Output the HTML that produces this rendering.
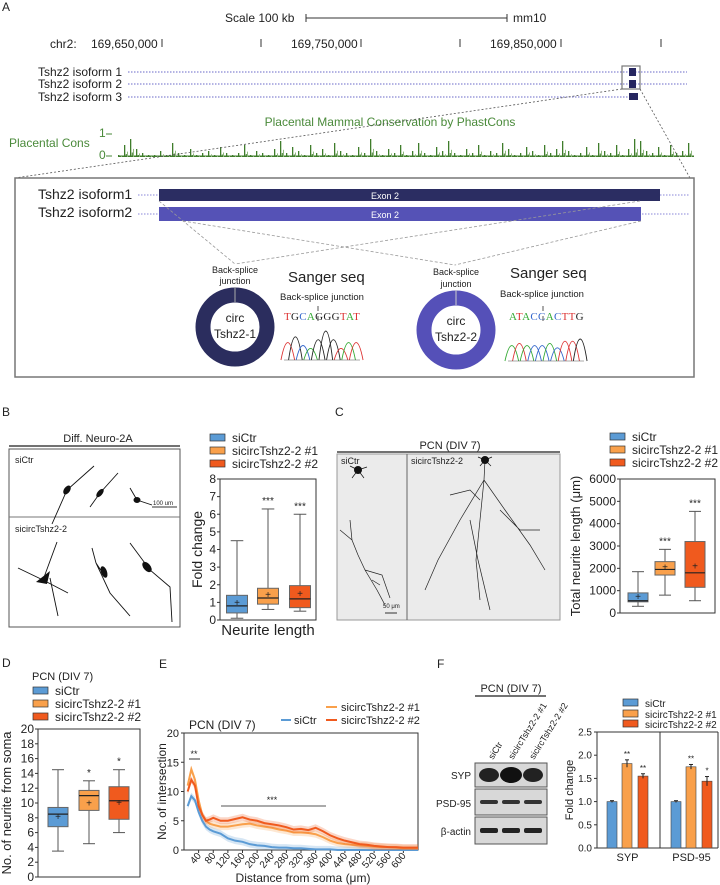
<!DOCTYPE html>
<html><head><meta charset="utf-8"><style>
body{margin:0;background:#fff}
svg{display:block;font-family:"Liberation Sans",Arial,sans-serif}
</style></head><body>
<svg id="fig" width="720" height="885" viewBox="0 0 720 885" xmlns="http://www.w3.org/2000/svg">
<!-- Panel A -->
<g font-size="12" fill="#222">
<text x="2" y="11" font-size="12">A</text>
<text x="225" y="22">Scale  100 kb</text>
<line x1="306" y1="18" x2="507" y2="18" stroke="#333"/>
<line x1="306" y1="14" x2="306" y2="22" stroke="#333"/><line x1="507" y1="14" x2="507" y2="22" stroke="#333"/>
<text x="513" y="22">mm10</text>
<g>
<text x="50" y="48">chr2:</text>
<text x="91" y="48">169,650,000</text><text x="291" y="48">169,750,000</text><text x="490" y="48">169,850,000</text>
<g stroke="#333"><line x1="162" y1="39" x2="162" y2="47"/><line x1="261" y1="39" x2="261" y2="47"/><line x1="361" y1="39" x2="361" y2="47"/><line x1="460" y1="39" x2="460" y2="47"/><line x1="561" y1="39" x2="561" y2="47"/><line x1="661" y1="39" x2="661" y2="47"/></g>
</g>
<g>
<text x="122" y="76" text-anchor="end">Tshz2 isoform 1</text>
<text x="122" y="88" text-anchor="end">Tshz2 isoform 2</text>
<text x="122" y="101" text-anchor="end">Tshz2 isoform 3</text>
<g stroke="#6a68c8" stroke-width="1" stroke-dasharray="1.5 1.5">
<line x1="128" y1="72" x2="687" y2="72"/><line x1="128" y1="84" x2="687" y2="84"/><line x1="128" y1="97" x2="632" y2="97"/></g>
<rect x="629" y="68" width="7" height="8" fill="#262660"/><rect x="629" y="80" width="7" height="8" fill="#262660"/><rect x="629" y="93" width="9" height="7" fill="#262660"/>
<rect x="622" y="66" width="18" height="23" fill="none" stroke="#777" stroke-width="1.2"/>
</g>
<text x="390" y="126" text-anchor="middle" fill="#4a8a3a">Placental Mammal Conservation by PhastCons</text>
<text x="9" y="147" fill="#4a8a3a">Placental Cons</text>
<text x="99" y="137" fill="#4a8a3a">1</text><text x="99" y="159" fill="#4a8a3a">0</text>
<line x1="106" y1="134" x2="112" y2="134" stroke="#4a8a3a"/><line x1="106" y1="156" x2="112" y2="156" stroke="#4a8a3a"/>
<g id="cons"></g>
<g stroke="#555" stroke-dasharray="2 2" stroke-width="0.8">
<line x1="622" y1="89" x2="15" y2="178"/><line x1="640" y1="89" x2="690" y2="178"/></g>
<rect x="15" y="178" width="679" height="199" fill="none" stroke="#777" stroke-width="1.5"/>
<g>
<text x="38" y="199" font-size="14">Tshz2 isoform1</text>
<text x="38" y="217" font-size="14">Tshz2 isoform2</text>
<g stroke="#8886d8" stroke-dasharray="1.5 1.5"><line x1="138" y1="195" x2="690" y2="195"/><line x1="138" y1="214" x2="690" y2="214"/></g>
<rect x="159" y="189" width="501" height="12" fill="#2b2d62"/>
<rect x="159" y="207" width="482" height="14" fill="#5552b6"/>
<text x="385" y="199" font-size="9" fill="#fff" text-anchor="middle">Exon 2</text>
<text x="385" y="218" font-size="9" fill="#fff" text-anchor="middle">Exon 2</text>
<g stroke="#999" stroke-dasharray="3 2" stroke-width="0.8" fill="none">
<line x1="159" y1="201" x2="235" y2="264"/><line x1="640" y1="201" x2="235" y2="264"/>
<line x1="183" y1="221" x2="455" y2="265"/><line x1="641" y1="221" x2="455" y2="265"/></g>
<circle cx="235" cy="327" r="32" fill="none" stroke="#2b2d5e" stroke-width="15"/>
<circle cx="456" cy="330" r="32" fill="none" stroke="#5550b8" stroke-width="15"/>
<line x1="235" y1="287" x2="235" y2="302" stroke="#aaa"/><line x1="456" y1="290" x2="456" y2="305" stroke="#ccc"/>
<g font-size="9" text-anchor="middle"><text x="235" y="273">Back-splice</text><text x="235" y="284">junction</text>
<text x="456" y="275">Back-splice</text><text x="456" y="287">junction</text></g>
<g font-size="12" text-anchor="middle"><text x="235" y="322">circ</text><text x="235" y="338">Tshz2-1</text>
<text x="456" y="325">circ</text><text x="456" y="341">Tshz2-2</text></g>
<text x="288" y="282" font-size="15">Sanger seq</text><text x="510" y="278" font-size="15">Sanger seq</text>
<text x="280" y="300" font-size="9.5">Back-splice junction</text><text x="500" y="297" font-size="9.5">Back-splice junction</text>
<text x="284" y="320" font-size="11" font-family="Liberation Serif,serif" letter-spacing="0.3"><tspan fill="#d33">T</tspan><tspan fill="#222">G</tspan><tspan fill="#36c">C</tspan><tspan fill="#3a3">A</tspan><tspan fill="#222">GGG</tspan><tspan fill="#d33">T</tspan><tspan fill="#3a3">A</tspan><tspan fill="#d33">T</tspan></text>
<text x="509" y="320" font-size="11" font-family="Liberation Serif,serif" letter-spacing="0.3"><tspan fill="#3a3">A</tspan><tspan fill="#d33">T</tspan><tspan fill="#3a3">A</tspan><tspan fill="#36c">CC</tspan><tspan fill="#3a3">A</tspan><tspan fill="#36c">C</tspan><tspan fill="#d33">TT</tspan><tspan fill="#222">G</tspan></text>
<path d="M318 306 l0 5 M318 316 l0 5" stroke="#555"/><path d="M543 306 l0 5 M543 316 l0 5" stroke="#555"/>
<g id="chrom"></g>
</g>
</g>

<!-- Panel B -->
<g fill="#222">
<text x="2" y="416" font-size="12">B</text>
<text x="98" y="442" font-size="11" text-anchor="middle">Diff. Neuro-2A</text>
<line x1="9" y1="446" x2="180" y2="446" stroke="#444" stroke-width="1.5"/>
<rect x="9" y="449" width="171" height="178" fill="#fff" stroke="#555"/>
<line x1="9" y1="517" x2="180" y2="517" stroke="#777"/>
<text x="15" y="463" font-size="9">siCtr</text><text x="15" y="532" font-size="9">sicircTshz2-2</text>
<text x="153" y="505" font-size="6">100 um</text><line x1="152" y1="507" x2="177" y2="507" stroke="#333"/>
<g stroke="#111" fill="none" stroke-width="0.9">
<path d="M94 466 L67 490 L52 524"/><path d="M118 473 L100 493 L90 507"/><path d="M130 488 L137 500 L152 505"/>
<path d="M18 568 L43 580 L68 593 M43 580 L57 542 M50 578 L58 616"/>
<path d="M92 548 L96 563 L110 593 L130 616 M96 563 L104 575"/><path d="M130 543 L150 570 L170 587 L172 622"/>
</g>
<g fill="#111"><ellipse cx="67" cy="490" rx="3" ry="5" transform="rotate(35 67 490)"/><ellipse cx="100" cy="493" rx="2.5" ry="5" transform="rotate(40 100 493)"/><ellipse cx="137" cy="500" rx="3.5" ry="3"/>
<path d="M36 582 L50 571 L47 584 Z"/><ellipse cx="104" cy="572" rx="3" ry="6" transform="rotate(-20 104 572)"/><ellipse cx="147" cy="567" rx="3.5" ry="6" transform="rotate(-40 147 567)"/></g>
<g id="chartB"></g>
</g>

<!-- Panel C -->
<g fill="#222">
<text x="335" y="416" font-size="12">C</text>
<text x="450" y="449" font-size="11" text-anchor="middle">PCN (DIV 7)</text>
<line x1="337" y1="452" x2="560" y2="452" stroke="#444" stroke-width="1.5"/>
<rect x="337" y="454" width="223" height="166" fill="#ebebeb" stroke="#999"/>
<line x1="407" y1="454" x2="407" y2="620" stroke="#666"/>
<text x="341" y="464" font-size="9">siCtr</text><text x="411" y="464" font-size="9">sicircTshz2-2</text>
<text x="383" y="608" font-size="6">50 μm</text><line x1="385" y1="613" x2="397" y2="613" stroke="#333"/>
<g stroke="#222" fill="none" stroke-width="0.7">
<path d="M358 555 L365 570 L377 590 L385 605 M365 570 L382 575 L390 598 M372 580 L380 585"/>
<path d="M358 555 L352 540 L350 520 M352 540 L340 530"/>
<path d="M485 460 L484 480 L480 520 L476 560 L480 600 M484 480 L460 520 L438 560 L425 590 M484 480 L505 510 L530 545 L545 570 M480 500 L470 490 L450 495 M500 510 L520 530 L540 530"/>
<path d="M470 520 L478 560 L490 610"/></g>
<circle cx="358" cy="470" r="4" fill="#111"/><path d="M358 470 l-8 -4 M358 470 l6 8 M358 470 l-6 8 M358 470 l9 -3" stroke="#111" stroke-width="0.7"/>
<circle cx="485" cy="460" r="4" fill="#111"/><path d="M485 460 l-7 -3 M485 460 l7 -3 M485 460 l-5 6 M485 460 l6 6" stroke="#111" stroke-width="0.7"/>
<g id="chartC"></g>
</g>

<!-- Panel D -->
<g fill="#222">
<text x="2" y="667" font-size="12">D</text>
<text x="32" y="680" font-size="11">PCN (DIV 7)</text>
<g id="chartD"></g>
</g>

<!-- Panel E -->
<g fill="#222">
<text x="159" y="668" font-size="12">E</text>
<g id="chartE"></g>
</g>

<!-- Panel F -->
<g fill="#222">
<text x="437" y="668" font-size="12">F</text>
<text x="511" y="692" font-size="11" text-anchor="middle">PCN (DIV 7)</text>
<line x1="475" y1="696" x2="546" y2="696" stroke="#444" stroke-width="1.5"/>
<g font-size="9">
<text transform="translate(493 760) rotate(-58)">siCtr</text>
<text transform="translate(513 760) rotate(-58)">sicircTshz2-2 #1</text>
<text transform="translate(534 760) rotate(-58)">sicircTshz2-2 #2</text></g>
<g>
<rect x="475" y="763" width="72" height="24" fill="#d8d8d8" stroke="#555"/>
<rect x="475" y="789" width="72" height="26" fill="#d8d8d8" stroke="#555"/>
<rect x="475" y="817" width="72" height="27" fill="#d8d8d8" stroke="#555"/>
<ellipse cx="489" cy="775" rx="10" ry="7" fill="#222"/><ellipse cx="511" cy="775" rx="11" ry="8" fill="#111"/><ellipse cx="533" cy="775" rx="10" ry="7" fill="#222"/>
<rect x="480" y="800" width="18" height="4" rx="2" fill="#333"/><rect x="502" y="800" width="18" height="4" rx="2" fill="#333"/><rect x="524" y="800" width="18" height="4" rx="2" fill="#333"/>
<rect x="480" y="828" width="18" height="5" rx="2" fill="#222"/><rect x="502" y="828" width="18" height="5" rx="2" fill="#222"/><rect x="524" y="828" width="18" height="5" rx="2" fill="#222"/>
<g font-size="10" text-anchor="end"><text x="471" y="779">SYP</text><text x="471" y="807">PSD-95</text><text x="471" y="835">β-actin</text></g>
</g>
<g id="chartF"></g>
</g>
</svg>
<script>
const NS='http://www.w3.org/2000/svg';
const BLUE='#5b9bd5',LORANGE='#f9a04b',DORANGE='#f05a1e';
// ---- data ----
const consVals=[.1,.6,.9,.4,.2,.1,.1,.3,.1,.7,.2,.1,.4,.1,.2,.3,.1,.5,.2,.1,.2,.6,.1,.3,.2,.1,.4,.8,.2,.5,.3,.1,.6,.2,.4,.1,.7,.3,.2,.1,.5,.2,.9,.3,.1,.4,.2,.6,.1,.3,.7,.2,.1,.5,.3,.8,.2,.1,.4,.2,.6,.1,.3,.2,.7,.4,.1,.2,.5,.3,.1,.6,.2,.4,.8,.3,.1,.2,.5,.1,.7,.3,.2,.6,.1,.4,.9,.8,.3,.2,.5,.1,.6,.2,.3,.7];
const groups=['siCtr','sicircTshz2-2 #1','sicircTshz2-2 #2'];
const groupColors=[BLUE,LORANGE,DORANGE];
const bMin=[0.1,0.6,0.5], bQ1=[0.4,0.9,0.7], bMed=[0.8,1.25,1.2], bQ3=[1.4,1.8,1.95], bMax=[4.5,6.3,6.0], bMean=[1.0,1.45,1.5];
const bSig=['','***','***'];
const bTicks=[0,1,2,3,4,5,6,7,8];
const cMin=[300,800,550], cQ1=[500,1700,1150], cMed=[550,1950,1800], cQ3=[900,2300,3200], cMax=[1850,2850,4550], cMean=[750,2050,2100];
const cSig=['','***','***'];
const cTicks=[0,1000,2000,3000,4000,5000,6000];
const dMin=[3.5,4.5,6], dQ1=[6.8,9,7.8], dMed=[8.5,11,10.3], dQ3=[9.4,11.7,12.2], dMax=[14.5,13,14.5], dMean=[8.2,10,10.1];
const dSig=['','*','*'];
const dTicks=[0,2,4,6,8,10,12,14,16,18,20];
const eDist=[10,20,30,40,50,60,70,80,100,120,140,160,180,200,220,240,260,280,300,320,340,360,380,400,420,440,460,480,500,520,540,560,580,600,620,640];
const eCtr=[7.5,9.2,8.5,6.5,5,4,3.5,3.2,2.8,2,1.6,1.4,1,0.8,0.7,0.5,0.4,0.4,0.3,0.3,0.2,0.1,0.1,0.1,0,0,0,0,0,0,0,0,0,0,0,0];
const eS1=[11,13.8,12,8.5,6,5,4.5,4.3,4,4,4.2,4.4,4.5,4.2,4,3.8,3.5,3.3,3,3,2.9,2.7,2.2,1.6,1.2,1,0.9,0.8,0.7,0.6,0.5,0.5,0.4,0.3,0.3,0.3];
const eS2=[10,12,11,7.5,6,5,5.2,5.5,5,5,5.3,5.6,5.2,5,4.6,4.4,4.2,3.9,3.5,3.6,3.4,3.8,3.2,2.5,2,1.6,1.3,1,0.9,0.7,0.6,0.5,0.5,0.4,0.4,0.4];
const eYTicks=[0,5,10,15,20];
const eXTicks=[40,80,120,160,200,240,280,320,360,400,440,480,520,560,600];
const fProteins=['SYP','PSD-95'];
const fSYP=[1.0,1.82,1.55], fSYPerr=[0.02,0.08,0.05];
const fPSD=[1.0,1.75,1.44], fPSDerr=[0.02,0.05,0.1];
const fSYPsig=['','**','**'], fPSDsig=['','**','*'];
const fTicks=[0,0.5,1.0,1.5,2.0,2.5];
const chromBases1=['T','G','C','A','G','G','G','T','A','T'], chromH1=[0.6,0.8,0.5,0.4,0.7,1,0.7,0.4,0.6,0.6];
const chromBases2=['A','T','A','C','C','A','C','T','T','G'], chromH2=[0.7,0.8,0.7,0.7,0.7,0.8,0.6,0.9,0.9,1];
const baseColor={A:'#3a3',C:'#36c',G:'#222',T:'#d33'};

function el(tag,attrs,parent,text){const e=document.createElementNS(NS,tag);for(const k in attrs)e.setAttribute(k,attrs[k]);if(text!==undefined)e.textContent=text;parent.appendChild(e);return e;}

// conservation
(function(){const g=document.getElementById('cons');const x0=118,x1=694,base=157,h=20;
el('rect',{x:x0,y:base-1.5,width:x1-x0,height:1.5,fill:'#3f7d2b'},g);
const step=(x1-x0)/consVals.length;
consVals.forEach((v,i)=>{const x=x0+i*step;
const b=el('rect',{x:x,y:base-v*h,width:1.3,height:v*h,fill:'#3f7d2b'},g);


el('rect',{x:x+step/2,y:base-v*h*0.45,width:1,height:v*h*0.45,fill:'#8fb87f'},g);
el('rect',{x:x+step*0.3,y:base-v*h*0.25,width:1,height:v*h*0.25,fill:'#3f7d2b'},g);});})();

// chromatograms
(function(){const g=document.getElementById('chrom');
function draw(bases,hs,x0,x1,base,H){const w=(x1-x0)/bases.length;bases.forEach((b,i)=>{const cx=x0+w*(i+0.5),h=hs[i]*H;
const p=el('path',{d:`M${cx-w*0.9} ${base} Q${cx} ${base-2*h} ${cx+w*0.9} ${base}`,fill:'none',stroke:baseColor[b],'stroke-width':0.9},g);

});
el('line',{x1:x0,y1:base,x2:x1,y2:base,stroke:'#555','stroke-width':0.6},g);}
draw(chromBases1,chromH1,284,360,360,29);draw(chromBases2,chromH2,508,584,361,22);})();

function legend(g,x,ys,fs){groups.forEach((n,i)=>{const r=el('rect',{x:x,y:ys[i]-4,width:15,height:7,fill:groupColors[i],stroke:'#333','stroke-width':0.7},g);


const t=el('text',{x:x+22,y:ys[i]+4,'font-size':fs},g,n);

});}

function boxChart(id,o){const g=document.getElementById(id);
const y=v=>o.bottom-(v-o.min)/(o.max-o.min)*(o.bottom-o.top);
el('rect',{x:o.left,y:o.top,width:o.right-o.left,height:o.bottom-o.top,fill:'none',stroke:'#333','stroke-width':1},g);
o.ticks.forEach(t=>{el('line',{x1:o.left-3,y1:y(t),x2:o.left,y2:y(t),stroke:'#333'},g);
const tl=el('text',{x:o.left-4,y:y(t)+4,'font-size':o.fs,'text-anchor':'end'},g,t);

});
const yl=el('text',{transform:`translate(${o.ylx} ${(o.top+o.bottom)/2}) rotate(-90)`,'font-size':o.lfs,'text-anchor':'middle'},g,o.ylabel);


o.cx.forEach((cx,i)=>{const w=o.bw;const bg=el('g',{},g);


el('line',{x1:cx,y1:y(o.mn[i]),x2:cx,y2:y(o.mx[i]),stroke:'#555'},bg);
el('line',{x1:cx-w*0.3,y1:y(o.mn[i]),x2:cx+w*0.3,y2:y(o.mn[i]),stroke:'#555'},bg);
el('line',{x1:cx-w*0.3,y1:y(o.mx[i]),x2:cx+w*0.3,y2:y(o.mx[i]),stroke:'#555'},bg);
el('rect',{x:cx-w/2,y:y(o.q3[i]),width:w,height:y(o.q1[i])-y(o.q3[i]),fill:groupColors[i],stroke:'#666'},bg);
el('line',{x1:cx-w/2,y1:y(o.md[i]),x2:cx+w/2,y2:y(o.md[i]),stroke:'#222','stroke-width':1.2},bg);
el('text',{x:cx,y:y(o.mean[i])+3.5,'font-size':10,'text-anchor':'middle'},bg,'+');
if(o.sig[i])el('text',{x:cx,y:y(o.mx[i])-5,'font-size':o.fs-2,'text-anchor':'middle'},bg,o.sig[i]);});
return g;}

// B
(function(){const g=boxChart('chartB',{left:220,right:316,top:479,bottom:620,min:0,max:8,ticks:bTicks,fs:12,lfs:14,ylx:202,ylabel:'Fold change',cx:[237,268,300],bw:21,mn:bMin,q1:bQ1,md:bMed,q3:bQ3,mx:bMax,mean:bMean,sig:bSig});
legend(g,210,[438,451,464],12);
el('text',{x:268,y:635,'font-size':15,'text-anchor':'middle'},g,'Neurite length');})();
// C
(function(){const g=boxChart('chartC',{left:620,right:715,top:479,bottom:613,min:0,max:6000,ticks:cTicks,fs:12,lfs:13,ylx:580,ylabel:'Total neurite length (μm)',cx:[638,665,695],bw:20,mn:cMin,q1:cQ1,md:cMed,q3:cQ3,mx:cMax,mean:cMean,sig:cSig});
legend(g,610,[437,450,463],12);})();
// D
(function(){const g=boxChart('chartD',{left:38,right:140,top:729,bottom:877,min:0,max:20,ticks:dTicks,fs:12,lfs:13,ylx:11,ylabel:'No. of neurite from soma',cx:[58,89,119],bw:20,mn:dMin,q1:dQ1,md:dMed,q3:dQ3,mx:dMax,mean:dMean,sig:dSig});
legend(g,33,[691,704,717],12);})();

// E
(function(){const g=document.getElementById('chartE');const L=184,R=418,T=733,B=850;
const x=d=>L+d*(R-L)/640, y=v=>B-v*(B-T)/20;
el('rect',{x:L,y:T,width:R-L,height:B-T,fill:'none',stroke:'#333'},g);
eYTicks.forEach(t=>{el('line',{x1:L-3,y1:y(t),x2:L,y2:y(t),stroke:'#333'},g);
const tl=el('text',{x:L-5,y:y(t)+4,'font-size':11,'text-anchor':'end'},g,t);

});
eXTicks.forEach(t=>{el('line',{x1:x(t),y1:B,x2:x(t),y2:B+3,stroke:'#333'},g);
const tl=el('text',{transform:`translate(${x(t)+3} ${B+6}) rotate(-50)`,'font-size':10,'text-anchor':'end'},g,t);

});
const yt=el('text',{transform:`translate(166 ${(T+B)/2}) rotate(-90)`,'font-size':12,'text-anchor':'middle'},g,'No. of intersection');


const xt=el('text',{x:303,y:882,'font-size':12,'text-anchor':'middle'},g,'Distance from soma  (μm)');


function series(vals,color,name){const pts=eDist.map((d,i)=>[x(d),y(vals[i])]);
const up=eDist.map((d,i)=>x(d)+','+y(vals[i]+0.6)).join(' '), dn=eDist.map((d,i)=>x(d)+','+y(Math.max(0,vals[i]-0.6))).reverse().join(' ');
el('polygon',{points:up+' '+dn,fill:color,opacity:0.25},g);
const p=el('polyline',{points:pts.map(p=>p.join(',')).join(' '),fill:'none',stroke:color,'stroke-width':2},g);

}
series(eCtr,BLUE,'line-sictr');series(eS1,LORANGE,'line-sicirc-1');series(eS2,DORANGE,'line-sicirc-2');
el('text',{x:189,y:729,'font-size':12},g,'PCN (DIV 7)');
el('line',{x1:281,y1:720,x2:291,y2:720,stroke:BLUE,'stroke-width':2},g);el('text',{x:294,y:724,'font-size':11},g,'siCtr');
el('line',{x1:326,y1:707,x2:337,y2:707,stroke:LORANGE,'stroke-width':2},g);el('text',{x:341,y:711,'font-size':11},g,'sicircTshz2-2 #1');
el('line',{x1:326,y1:720,x2:337,y2:720,stroke:DORANGE,'stroke-width':2},g);el('text',{x:341,y:724,'font-size':11},g,'sicircTshz2-2 #2');
el('line',{x1:189,y1:759,x2:200,y2:759,stroke:'#333'},g);el('text',{x:194,y:757,'font-size':9,'text-anchor':'middle'},g,'**');
el('line',{x1:221,y1:806,x2:326,y2:806,stroke:'#555'},g);el('text',{x:272,y:803,'font-size':9,'text-anchor':'middle'},g,'***');})();

// F
(function(){const g=document.getElementById('chartF');const L=597,R=718,T=732,B=848;
const y=v=>B-v*(B-T)/2.5;
el('line',{x1:L,y1:T,x2:L,y2:B,stroke:'#333'},g);el('line',{x1:L,y1:B,x2:R,y2:B,stroke:'#333'},g);
el('line',{x1:660,y1:T,x2:660,y2:B,stroke:'#333'},g);el('line',{x1:L,y1:T,x2:R,y2:T,stroke:'#333'},g);el('line',{x1:R,y1:T,x2:R,y2:B,stroke:'#333'},g);
fTicks.forEach(t=>{el('line',{x1:L-3,y1:y(t),x2:L,y2:y(t),stroke:'#333'},g);
const tl=el('text',{x:L-5,y:y(t)+3.5,'font-size':10,'text-anchor':'end'},g,t.toFixed(1));

});
const yt=el('text',{transform:`translate(573 790) rotate(-90)`,'font-size':11,'text-anchor':'middle'},g,'Fold change');


const sets=[[fSYP,fSYPerr,fSYPsig,[612,627,643]],[fPSD,fPSDerr,fPSDsig,[676,691,707]]];
sets.forEach((s,k)=>{s[0].forEach((v,i)=>{const cx=s[3][i];
const b=el('rect',{x:cx-5,y:y(v),width:10,height:B-y(v),fill:groupColors[i],stroke:'#444','stroke-width':0.6},g);


el('line',{x1:cx,y1:y(v+s[1][i]),x2:cx,y2:y(v-s[1][i]),stroke:'#222'},g);
el('line',{x1:cx-2,y1:y(v+s[1][i]),x2:cx+2,y2:y(v+s[1][i]),stroke:'#222'},g);
if(s[2][i])el('text',{x:cx,y:y(v+s[1][i])-3,'font-size':8,'text-anchor':'middle'},g,s[2][i]);});
const xl=el('text',{x:(s[3][0]+s[3][2])/2,y:861,'font-size':11,'text-anchor':'middle'},g,fProteins[k]);

});
legend(g,623,[703,714,724],10);})();
</script>
</body></html>
